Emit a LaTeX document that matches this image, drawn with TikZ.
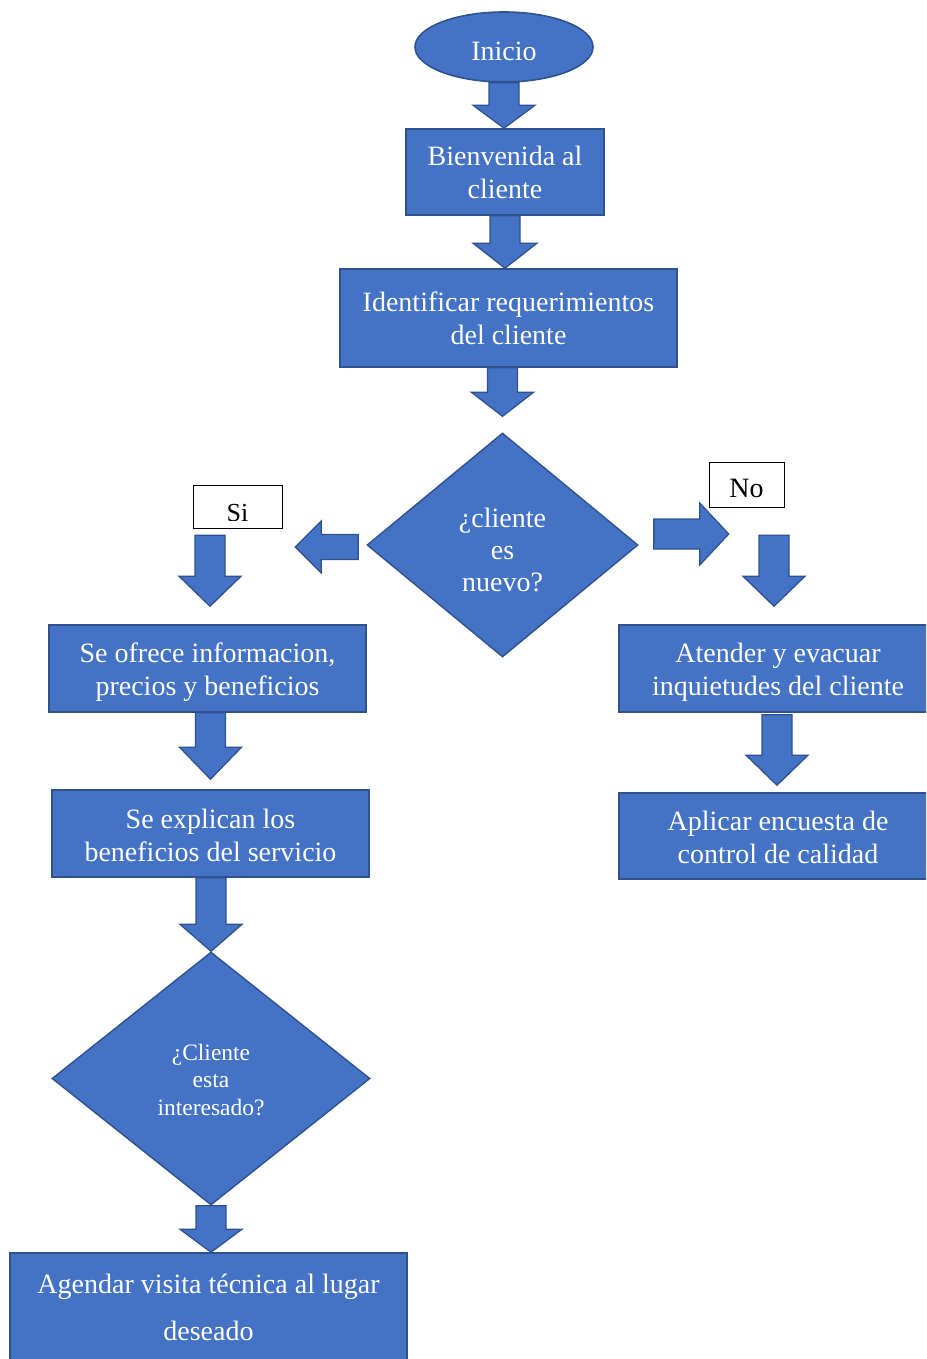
\documentclass[tikz,border=0pt]{standalone}
\usepackage{fontspec}
\setmainfont{Liberation Serif}
\usetikzlibrary{shapes.geometric,calc}
\definecolor{fillc}{HTML}{4472C4}
\definecolor{bordc}{HTML}{2F528F}
\tikzset{
  box/.style={draw=bordc,fill=fillc,line width=1.6pt,text=white,align=center,inner sep=0pt,
    font=\fontsize{28}{33}\selectfont},
  decis/.style={diamond,draw=bordc,fill=fillc,line width=1.4pt,text=white,align=center,inner sep=0pt},
  startend/.style={ellipse,draw=bordc,fill=fillc,line width=1.6pt,text=white,inner sep=0pt,
    font=\fontsize{28}{33}\selectfont},
  lab/.style={draw=black,fill=white,line width=0.8pt,inner sep=0pt},
  labtext/.style={text=black,inner sep=0pt,anchor=base},
  blk/.style={draw=bordc,fill=fillc,line width=1.3pt,line join=miter}
}
\newcommand\upstrut[1]{\rule{0pt}{#1}}
\newcommand\blockarr[5]{%
  \coordinate (hb) at ($(#2)!#3!(#1)$);
  \path[blk] ($(#1)!#4!90:(#2)$) -- ($(hb)!#4!90:(#2)$) -- ($(hb)!#5!90:(#2)$) -- (#2)
    -- ($(hb)!#5!-90:(#2)$) -- ($(hb)!#4!-90:(#2)$) -- ($(#1)!#4!-90:(#2)$) -- cycle;}
\begin{document}
\begin{tikzpicture}[x=1pt,y=-1pt]
\useasboundingbox (0,0) rectangle (926,1359);
\clip (0,0) rectangle (926,1359);
\fill[white] (0,0) rectangle (926,1359);

% nodes
\node[startend,minimum width=178pt,minimum height=70pt] (inicio) at (504,47) {\upstrut{27pt}Inicio};
\node[box,minimum width=198pt,minimum height=86pt] (bienv) at (505,172) {\upstrut{21pt}Bienvenida al\\cliente};
\node[box,minimum width=337pt,minimum height=98pt] (ident) at (508.5,318) {\upstrut{20pt}Identificar requerimientos\\del cliente};
\node[decis,minimum width=271pt,minimum height=224pt] (dec1) at (502.5,545) {};
\node[text=white,align=center,inner sep=0pt,font=\fontsize{28}{32}\selectfont] (dec1t) at (502.5,550) {¿cliente\\es\\nuevo?};

\node[lab,minimum width=89pt,minimum height=43pt] (si) at (237.5,506.5) {};
\begin{scope}
  \clip (193,485) rectangle (282,520.5);
  \node[labtext,font=\fontsize{26}{30}\selectfont] (sit) at (237.5,521.5) {Si};
\end{scope}
\node[lab,minimum width=75pt,minimum height=45pt] (no) at (746.5,484.5) {};
\node[labtext,font=\fontsize{28}{32}\selectfont] (not) at (746.5,497.5) {No};

\node[box,minimum width=317pt,minimum height=87pt] (ofrece) at (207.5,668.5) {\upstrut{27pt}Se ofrece informacion,\\precios y beneficios};
\node[box,minimum width=317pt,minimum height=87pt] (explican) at (210.5,833.5) {\upstrut{23pt}Se explican los\\beneficios del servicio};
\node[decis,minimum width=318pt,minimum height=253pt] (dec2) at (211,1078.5) {};
\node[text=white,align=center,inner sep=0pt,font=\fontsize{23.5}{27.5}\selectfont] (dec2t) at (211,1080) {¿Cliente\\esta\\interesado?};
\node[box,minimum width=397pt,minimum height=109pt,font=\fontsize{28}{47}\selectfont] (agendar) at (208.5,1307.5) {Agendar visita técnica al lugar\\deseado};

\node[box,minimum width=318pt,minimum height=87pt] (atender) at (778,668.5) {\upstrut{27pt}Atender y evacuar\\inquietudes del cliente};
\node[box,minimum width=318pt,minimum height=86pt] (aplicar) at (778,836) {\upstrut{23pt}Aplicar encuesta de\\control de calidad};

% block arrows
\coordinate (a1s) at (inicio.south);
\coordinate (a1t) at (inicio.south |- bienv.north);
\blockarr{a1s}{a1t}{23pt}{15pt}{31pt}
\coordinate (a2s) at (bienv.south);
\coordinate (a2t) at (bienv.south |- ident.north);
\blockarr{a2s}{a2t}{25pt}{15pt}{32pt}
\coordinate (a3s) at (dec1.north |- ident.south);
\coordinate (a3t) at ($(dec1.north)+(0,-16)$);
\blockarr{a3s}{a3t}{24pt}{15pt}{31pt}
\coordinate (a4s) at ($(dec1.west)+(-8,2)$);
\coordinate (a4t) at ($(dec1.west)+(-71,2)$);
\blockarr{a4s}{a4t}{26pt}{12.5pt}{26pt}
\coordinate (a5s) at ($(dec1.east)+(15,-11)$);
\coordinate (a5t) at ($(dec1.east)+(90,-11)$);
\blockarr{a5s}{a5t}{29pt}{15pt}{31pt}
\coordinate (a6s) at ($(ofrece.north)+(2.5,-89)$);
\coordinate (a6t) at ($(ofrece.north)+(2.5,-18)$);
\blockarr{a6s}{a6t}{30pt}{15pt}{31pt}
\coordinate (a7s) at ($(atender.north)+(-4,-89)$);
\coordinate (a7t) at ($(atender.north)+(-4,-18)$);
\blockarr{a7s}{a7t}{30pt}{15pt}{31pt}
\coordinate (a8s) at (explican.north |- ofrece.south);
\coordinate (a8t) at ($(explican.north)+(0,-10)$);
\blockarr{a8s}{a8t}{32pt}{15pt}{31pt}
\coordinate (a9s) at (dec2.north |- explican.south);
\coordinate (a9t) at (dec2.north);
\blockarr{a9s}{a9t}{27pt}{15pt}{31pt}
\coordinate (a10s) at (dec2.south);
\coordinate (a10t) at (dec2.south |- agendar.north);
\blockarr{a10s}{a10t}{23pt}{15pt}{31pt}
\coordinate (a11s) at ($(atender.south)+(-1,2)$);
\coordinate (a11t) at ($(aplicar.north)+(-1,-7)$);
\blockarr{a11s}{a11t}{30pt}{15pt}{31pt}
\end{tikzpicture}
\end{document}
